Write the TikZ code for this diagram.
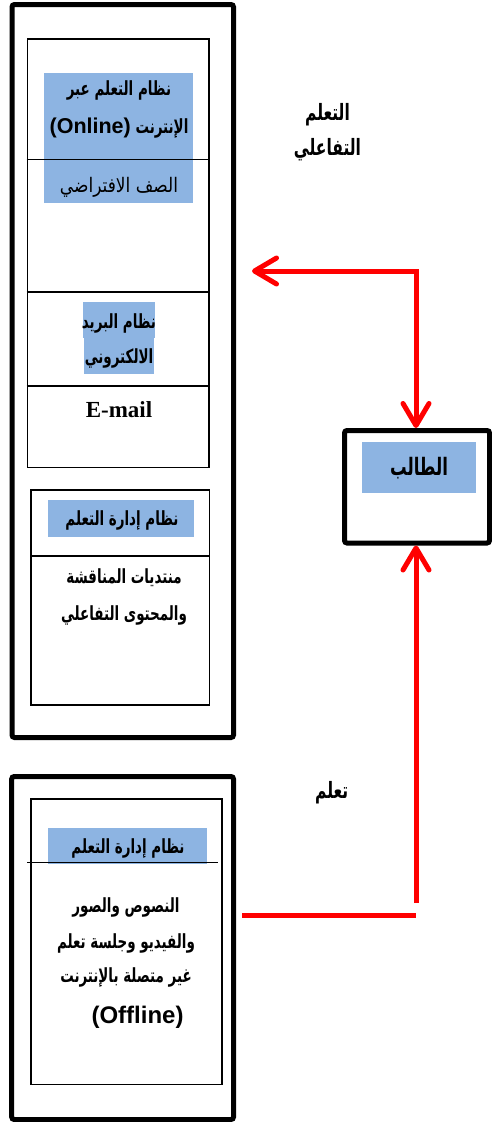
\documentclass[tikz,border=0pt]{standalone}
\usepackage{fontspec}
\usetikzlibrary{arrows.meta,fit}
\TeXXeTstate=1
\newfontfamily\arfont[Script=Arabic,FakeStretch=0.69]{DejaVu Sans}
\newfontfamily\arfontw[Script=Arabic,FakeStretch=0.85]{DejaVu Sans}
\newfontfamily\latfont{Liberation Sans}
\newfontfamily\serfont{Liberation Serif}
\definecolor{hl}{RGB}{141,180,226}
\definecolor{arrred}{RGB}{255,0,0}
\begin{document}
\begin{tikzpicture}[x=1pt,y=-1pt,
  outbox/.style={draw, line width=5pt, rounded corners=2.5pt, inner sep=0pt},
  inbox/.style={draw, line width=1.6pt, inner sep=0pt},
  hlbox/.style={fill=hl, inner sep=0pt},
  divline/.style={line width=1.6pt},
  artxt/.style={font=\arfont\bfseries\fontsize{19.5}{21}\selectfont, inner sep=0pt},
  arplain/.style={font=\arfontw\fontsize{20}{22}\selectfont, inner sep=0pt},
  bigtxt/.style={font=\arfont\bfseries\fontsize{24}{26}\selectfont, inner sep=0pt},
  lbltxt/.style={font=\arfont\bfseries\fontsize{22.5}{24}\selectfont, inner sep=0pt},
  mailtxt/.style={font=\serfont\bfseries\fontsize{23}{25}\selectfont, inner sep=0pt},
  conn/.style={draw=arrred, line width=5pt},
  barb/.tip={Straight Barb[length=22pt,width=26pt,line cap=round,line join=round]}]
\useasboundingbox (0,0) rectangle (492,1122);
% ---- upper group
\node[outbox, fit={(12,4.5)(233.5,737.5)}] (outer1) {};
\node[hlbox, fit={(44.3,72.7)(193.3,202.7)}] (hl1) {};
\node[inbox, fit={(27.5,39)(209,467.5)}] (in1) {};
\draw[divline] (in1.west |- 0,159.3) coordinate (d1a) -- (in1.east |- 0,159.3) coordinate (d1b);
\draw[divline] (in1.west |- 0,291.7) coordinate (d2a) -- (in1.east |- 0,291.7) coordinate (d2b);
\draw[divline] (in1.west |- 0,386) coordinate (d3a) -- (in1.east |- 0,386) coordinate (d3b);
\node[artxt] (t1) at (119,90) {\beginR نظام التعلم عبر\endR};
\node[artxt] (t2) at (119,128) {\beginR الإنترنت \beginL{\latfont\bfseries\fontsize{21.5}{23}\selectfont(Online)}\endL\endR};
\node[arplain] (t3) at (119,187) {\beginR الصف الافتراضي\endR};
\node[hlbox, fit={(83,302)(155,338)}] (hl2a) {};
\node[hlbox, fit={(84,338)(154,374)}] (hl2b) {};
\node[artxt] (t4) at (119,323) {\beginR نظام البريد\endR};
\node[artxt] (t5) at (119,358) {\beginR الالكتروني\endR};
\node[mailtxt] (t6) at (119,410) {E-mail};
\node[hlbox, fit={(48,500)(194,537)}] (hl3) {};
\node[inbox, fit={(31,490)(209.5,705)}] (in2) {};
\draw[divline] (in2.west |- 0,556) coordinate (d4a) -- (in2.east |- 0,556) coordinate (d4b);
\node[artxt] (t7) at (122,520) {\beginR نظام إدارة التعلم\endR};
\node[artxt] (t8) at (124,578) {\beginR منتديات المناقشة\endR};
\node[artxt] (t9) at (124,615) {\beginR والمحتوى التفاعلي\endR};
% ---- lower group
\node[outbox, fit={(11.7,776.5)(233.5,1119.5)}] (outer2) {};
\node[hlbox, fit={(47.7,828.3)(206.7,864)}] (hl4) {};
\node[inbox, fit={(30.8,799)(221.7,1084.3)}] (in3) {};
\coordinate (d5a) at (27.3,862.3);
\coordinate (d5b) at (218.3,862.3);
\draw[divline] (d5a) -- (d5b);
\node[artxt] (t10) at (128,848) {\beginR نظام إدارة التعلم\endR};
\node[artxt] (t11) at (126,907) {\beginR النصوص والصور\endR};
\node[artxt] (t12) at (126,943) {\beginR والفيديو وجلسة تعلم\endR};
\node[artxt] (t13) at (126,977) {\beginR غير متصلة بالإنترنت\endR};
\node[inner sep=0pt, font=\latfont\bfseries\fontsize{24}{26}\selectfont] (t14) at (137.5,1017) {(Offline)};
% ---- student
\node[outbox, fit={(344.5,430.5)(489.5,543)}] (student) {};
\node[hlbox, fit={(362.3,441.7)(475.7,492.7)}] (hl5) {};
\node[bigtxt] (t15) at (419,468) {\beginR الطالب\endR};
% ---- labels
\node[lbltxt] (l1) at (327.5,115) {\beginR التعلم\endR};
\node[lbltxt] (l2) at (327.5,150) {\beginR التفاعلي\endR};
\node[lbltxt] (l3) at (331.7,793) {\beginR تعلم\endR};
% ---- connectors
\coordinate (c1) at (outer1.east |- 0,271);
\coordinate (c1t) at ([xshift=16pt]c1);
\coordinate (c2) at (student.north -| 416,410);
\draw[conn, barb-barb] (c1t) -| (c2);
\coordinate (c3) at (416,903);
\coordinate (c4) at (student.south -| 416,558);
\draw[conn, -barb] (c3) -- (c4);
\coordinate (c5) at (242,915.7);
\coordinate (c6) at (415.7,915.7);
\draw[conn] (c5) -- (c6);
\end{tikzpicture}
\end{document}
